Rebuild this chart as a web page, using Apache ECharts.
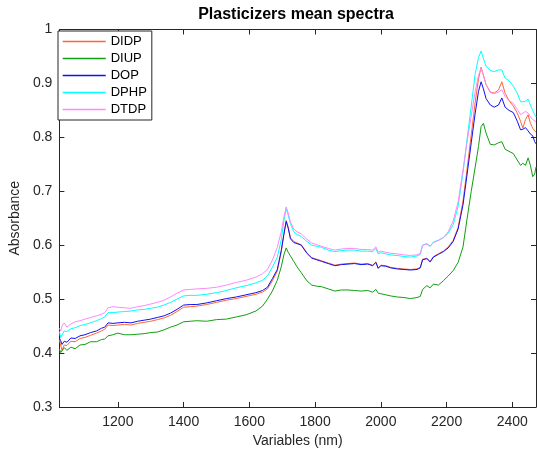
<!DOCTYPE html>
<html>
<head>
<meta charset="utf-8">
<script src="https://cdn.jsdelivr.net/npm/echarts@6/dist/echarts.min.js"></script>
<style>html,body{margin:0;padding:0;background:#fff}#c{width:537px;height:453px}</style>
</head>
<body>
<div id="c"></div>
<script>
const wavelengths = [1022,1026,1030,1037,1045,1057,1070,1085,1100,1117,1135,1150,1160,1170,1185,1200,1220,1240,1260,1280,1300,1320,1340,1360,1380,1400,1420,1440,1470,1500,1530,1560,1590,1620,1640,1655,1670,1685,1697,1705,1712,1718,1725,1735,1745,1758,1775,1790,1805,1820,1840,1860,1880,1900,1920,1940,1960,1975,1985,1992,2000,2015,2030,2050,2070,2090,2110,2120,2127,2140,2150,2160,2175,2190,2205,2220,2235,2250,2262,2275,2287,2297,2305,2312,2320,2333,2345,2358,2368,2378,2390,2403,2415,2425,2432,2440,2448,2455,2462,2468,2472];

const DOP = [0.428,0.423,0.416,0.422,0.420,0.428,0.427,0.432,0.434,0.438,0.441,0.446,0.448,0.456,0.455,0.456,0.457,0.456,0.459,0.461,0.463,0.466,0.469,0.474,0.481,0.489,0.490,0.490,0.493,0.497,0.501,0.504,0.508,0.512,0.516,0.522,0.538,0.555,0.590,0.620,0.644,0.632,0.612,0.605,0.603,0.600,0.585,0.576,0.573,0.570,0.566,0.562,0.564,0.565,0.566,0.564,0.565,0.562,0.568,0.557,0.562,0.561,0.558,0.556,0.555,0.554,0.555,0.558,0.573,0.575,0.569,0.578,0.583,0.588,0.595,0.607,0.630,0.675,0.730,0.790,0.845,0.885,0.903,0.890,0.872,0.860,0.856,0.860,0.873,0.856,0.850,0.846,0.830,0.814,0.815,0.818,0.812,0.806,0.803,0.792,0.788];

const DIDP = [0.425,0.415,0.405,0.415,0.414,0.422,0.421,0.427,0.429,0.433,0.437,0.441,0.444,0.452,0.451,0.452,0.453,0.452,0.455,0.457,0.459,0.462,0.465,0.470,0.477,0.485,0.486,0.487,0.490,0.494,0.498,0.501,0.505,0.509,0.513,0.519,0.534,0.552,0.588,0.620,0.646,0.634,0.614,0.607,0.604,0.601,0.586,0.577,0.574,0.571,0.567,0.563,0.565,0.566,0.567,0.565,0.566,0.563,0.569,0.558,0.563,0.562,0.559,0.557,0.556,0.555,0.556,0.559,0.574,0.576,0.570,0.579,0.584,0.589,0.597,0.609,0.633,0.682,0.740,0.805,0.865,0.908,0.930,0.915,0.898,0.884,0.882,0.888,0.903,0.882,0.868,0.858,0.845,0.830,0.817,0.833,0.842,0.826,0.817,0.812,0.810];

const DIUP = [0.408,0.401,0.398,0.410,0.405,0.411,0.408,0.415,0.416,0.421,0.421,0.425,0.426,0.432,0.434,0.437,0.434,0.434,0.435,0.436,0.438,0.439,0.443,0.448,0.452,0.458,0.459,0.460,0.459,0.462,0.463,0.467,0.471,0.478,0.487,0.500,0.515,0.535,0.560,0.582,0.595,0.587,0.580,0.570,0.560,0.549,0.534,0.526,0.524,0.523,0.519,0.515,0.517,0.517,0.516,0.515,0.516,0.513,0.518,0.511,0.510,0.508,0.506,0.504,0.503,0.501,0.503,0.505,0.518,0.525,0.521,0.528,0.526,0.534,0.543,0.553,0.568,0.597,0.648,0.700,0.745,0.783,0.820,0.826,0.808,0.787,0.786,0.790,0.792,0.778,0.774,0.770,0.758,0.748,0.752,0.748,0.762,0.748,0.727,0.732,0.745];

const DPHP = [0.440,0.429,0.432,0.441,0.440,0.445,0.447,0.451,0.453,0.456,0.460,0.464,0.467,0.475,0.475,0.476,0.477,0.478,0.480,0.481,0.483,0.485,0.489,0.494,0.500,0.506,0.507,0.507,0.509,0.512,0.516,0.521,0.525,0.530,0.535,0.543,0.559,0.578,0.610,0.645,0.668,0.656,0.640,0.625,0.620,0.616,0.607,0.600,0.598,0.596,0.591,0.588,0.590,0.591,0.591,0.589,0.589,0.588,0.594,0.584,0.586,0.584,0.582,0.581,0.579,0.578,0.580,0.583,0.600,0.603,0.598,0.606,0.609,0.614,0.622,0.638,0.672,0.735,0.795,0.858,0.918,0.948,0.960,0.946,0.932,0.924,0.922,0.925,0.925,0.910,0.905,0.895,0.882,0.866,0.866,0.867,0.871,0.860,0.850,0.842,0.838];

const DTDP = [0.446,0.441,0.450,0.456,0.448,0.454,0.458,0.460,0.463,0.466,0.469,0.472,0.475,0.484,0.486,0.485,0.484,0.483,0.486,0.488,0.491,0.494,0.498,0.504,0.511,0.517,0.518,0.519,0.520,0.522,0.526,0.531,0.535,0.541,0.547,0.555,0.572,0.596,0.625,0.652,0.671,0.660,0.643,0.630,0.625,0.621,0.611,0.604,0.601,0.598,0.594,0.591,0.593,0.594,0.594,0.592,0.592,0.591,0.597,0.587,0.589,0.587,0.585,0.584,0.582,0.581,0.582,0.585,0.600,0.602,0.598,0.605,0.609,0.614,0.625,0.645,0.680,0.740,0.790,0.840,0.885,0.915,0.928,0.915,0.898,0.883,0.881,0.884,0.888,0.876,0.868,0.863,0.852,0.842,0.845,0.848,0.845,0.838,0.833,0.830,0.829];

const seriesNames = ['DIDP','DIUP','DOP','DPHP','DTDP'];
const seriesValues = [DIDP, DIUP, DOP, DPHP, DTDP];
const seriesColors = ['#ff6633','#10a010','#1010f0','#00ffff','#ff88ff'];
const xTicks = [1200,1400,1600,1800,2000,2200,2400];
const yTicks = [0.3,0.4,0.5,0.6,0.7,0.8,0.9,1];

const FONT = "'Liberation Sans', Arial, Helvetica, sans-serif";
const AX = '#262626';

const chart = echarts.init(document.getElementById('c'), null, {renderer:'canvas'});
function xAx(pos, showLabel){
  return {
    type:'value', position:pos, min:1022, max:2472,
    axisLine:{show:true, onZero:false, lineStyle:{color:AX, width:1}},
    axisTick:{show:true, inside:true, length:5, customValues:xTicks, lineStyle:{color:AX}},
    axisLabel:{show:showLabel, customValues:xTicks, margin:8, color:AX, fontSize:14, fontFamily:FONT,
      formatter:v=>String(v)},
    splitLine:{show:false},
    name: showLabel ? 'Variables (nm)' : '', nameLocation:'middle', nameGap:27,
    nameTextStyle:{color:AX, fontSize:14, fontFamily:FONT}
  };
}
function yAx(pos, showLabel){
  return {
    type:'value', position:pos, min:0.3, max:1,
    axisLine:{show:true, onZero:false, lineStyle:{color:AX, width:1}},
    axisTick:{show:true, inside:true, length:5, customValues:yTicks, lineStyle:{color:AX}},
    axisLabel:{show:showLabel, customValues:yTicks, margin:7, color:AX, fontSize:14, fontFamily:FONT,
      formatter:v=>String(Math.round(v*10)/10)},
    splitLine:{show:false},
    name: showLabel ? 'Absorbance' : '', nameLocation:'middle', nameGap:33,
    nameTextStyle:{color:AX, fontSize:14, fontFamily:FONT}
  };
}
const option = {
  animation:false,
  backgroundColor:'#fff',
  title:{text:'Plasticizers mean spectra', left:291, top:2, textAlign:'center',
    textStyle:{fontSize:16, fontWeight:'bold', color:'#000', fontFamily:FONT}},
  grid:{left:57, right:1, top:29.5, bottom:45, containLabel:false},
  xAxis:[xAx('bottom', true), xAx('top', false)],
  yAxis:[yAx('left', true), yAx('right', false)],
  legend:{
    orient:'vertical', left:58, top:31, padding:[4,5,4,4],
    itemWidth:43, itemHeight:14, itemGap:4,
    backgroundColor:'#fff', borderColor:'#262626', borderWidth:1, borderRadius:0,
    itemStyle:{opacity:0},
    textStyle:{fontSize:13, color:'#000', fontFamily:FONT},
    data: seriesNames.map((n,i)=>({name:n, lineStyle:{width:1.4, color:seriesColors[i]}}))
  },
  series: seriesNames.map((n,i)=>({
    name:n, type:'line', xAxisIndex:0, yAxisIndex:0,
    showSymbol:false, symbol:'none', smooth:false,
    lineStyle:{width:1, color:seriesColors[i]}, itemStyle:{color:seriesColors[i]},
    data: wavelengths.map((w,k)=>[w, seriesValues[i][k]])
  }))
};
chart.setOption(option);
</script>
</body>
</html>
